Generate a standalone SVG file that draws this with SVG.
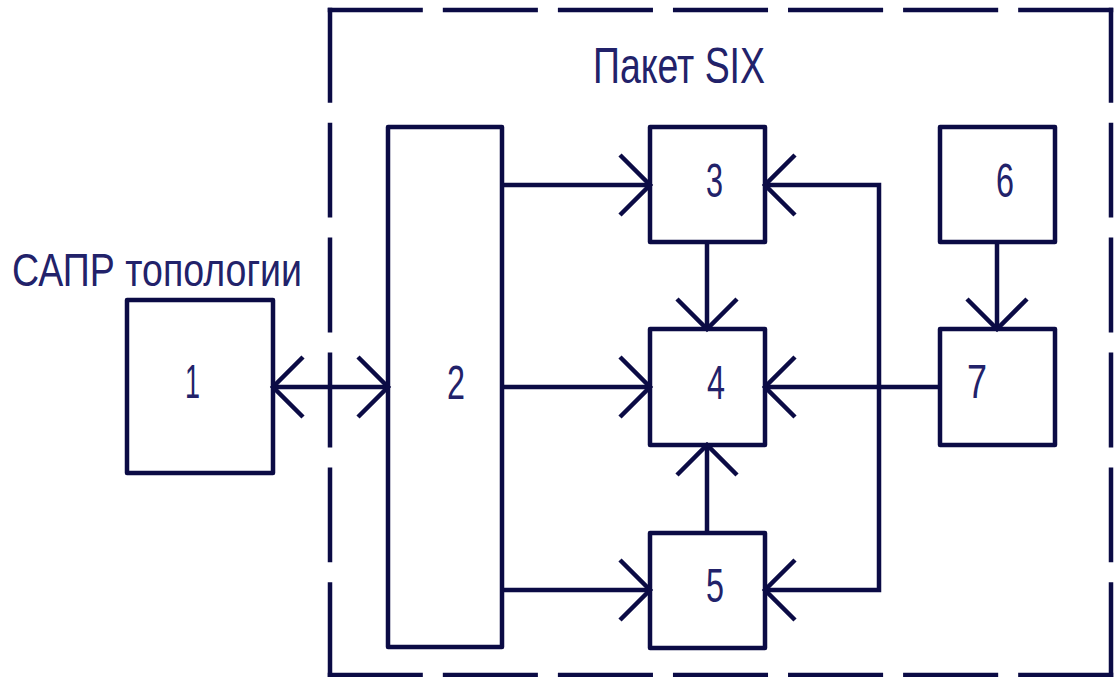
<svg xmlns="http://www.w3.org/2000/svg" width="1114" height="677" viewBox="0 0 1114 677">
  <style>
    .box { fill: none; stroke: #0b0b45; stroke-width: 4.5; stroke-linejoin: round; }
    .con { fill: none; stroke: #0b0b45; stroke-width: 4.5; stroke-linejoin: miter; }
    .frame { fill: none; stroke: #0b0b45; stroke-width: 4.5; stroke-linecap: square; }
    .lbl { font-family: "Liberation Sans", Arial, sans-serif; fill: #22226a; }
    .num { font-size: 48px; }
  </style>
  <defs>
    <marker id="arr" markerUnits="userSpaceOnUse" viewBox="-40 -40 50 80" refX="0" refY="0" markerWidth="50" markerHeight="80" orient="auto-start-reverse" overflow="visible">
      <path d="M-30,-30 L0,0 L-30,30" fill="none" stroke="#0b0b45" stroke-width="4.5"/>
    </marker>
  </defs>

  <g id="frame">
    <line class="frame" x1="330" y1="10" x2="1111" y2="10" stroke-dasharray="90.57 24.5"/>
    <line class="frame" x1="1111" y1="10" x2="1111" y2="675" stroke-dasharray="90.42 24.5"/>
    <line class="frame" x1="330" y1="675" x2="1111" y2="675" stroke-dasharray="90.57 24.5"/>
    <line class="frame" x1="330" y1="10" x2="330" y2="675" stroke-dasharray="90.42 24.5"/>
    <text class="lbl" x="593" y="83" font-size="50" textLength="172" lengthAdjust="spacingAndGlyphs">Пакет SIX</text>
  </g>

  <g id="cad-label">
    <text class="lbl" x="12" y="286" font-size="47" textLength="290" lengthAdjust="spacingAndGlyphs">САПР топологии</text>
  </g>

  <g id="connectors">
    <path class="con" d="M273,387 H388" marker-start="url(#arr)" marker-end="url(#arr)"/>
    <path class="con" d="M502,185 H650" marker-end="url(#arr)"/>
    <path class="con" d="M502,387 H650" marker-end="url(#arr)"/>
    <path class="con" d="M502,590 H650" marker-end="url(#arr)"/>
    <path class="con" d="M707,242 V329" marker-end="url(#arr)"/>
    <path class="con" d="M707,533 V445" marker-end="url(#arr)"/>
    <path class="con" d="M997,242 V329" marker-end="url(#arr)"/>
    <path class="con" d="M940,387 H765" marker-end="url(#arr)"/>
    <path class="con" d="M879,387 V185 H765" marker-end="url(#arr)"/>
    <path class="con" d="M879,387 V590 H765" marker-end="url(#arr)"/>
  </g>

  <g id="node1">
    <rect class="box" x="127" y="300" width="146" height="173"/>
    <text class="lbl num" x="185" y="398" textLength="15" lengthAdjust="spacingAndGlyphs">1</text>
  </g>
  <g id="node2">
    <rect class="box" x="388" y="127" width="114" height="520"/>
    <text class="lbl num" x="447" y="399" textLength="18" lengthAdjust="spacingAndGlyphs">2</text>
  </g>
  <g id="node3">
    <rect class="box" x="650" y="127" width="115" height="115"/>
    <text class="lbl num" x="706" y="197" textLength="17" lengthAdjust="spacingAndGlyphs">3</text>
  </g>
  <g id="node4">
    <rect class="box" x="650" y="329" width="115" height="116"/>
    <text class="lbl num" x="707" y="399" textLength="18" lengthAdjust="spacingAndGlyphs">4</text>
  </g>
  <g id="node5">
    <rect class="box" x="650" y="533" width="115" height="115"/>
    <text class="lbl num" x="706" y="602" textLength="18" lengthAdjust="spacingAndGlyphs">5</text>
  </g>
  <g id="node6">
    <rect class="box" x="940" y="127" width="115" height="115"/>
    <text class="lbl num" x="996" y="197" textLength="18" lengthAdjust="spacingAndGlyphs">6</text>
  </g>
  <g id="node7">
    <rect class="box" x="940" y="329" width="115" height="116"/>
    <text class="lbl num" x="967" y="398" textLength="20" lengthAdjust="spacingAndGlyphs">7</text>
  </g>
</svg>
